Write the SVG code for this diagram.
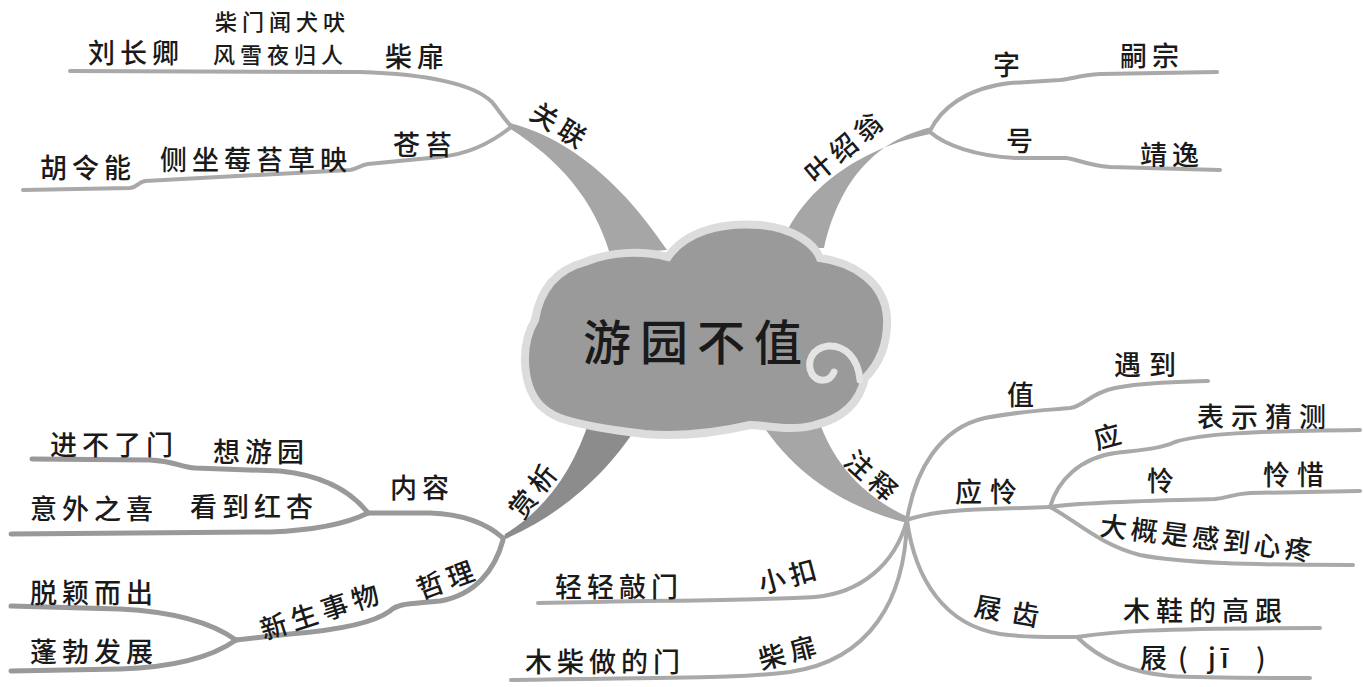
<svg xmlns="http://www.w3.org/2000/svg" width="1363" height="687" viewBox="0 0 1363 687">
<style>
.t{font-family:"Noto Sans CJK SC","Noto Sans",sans-serif;font-size:27px;font-weight:500;fill:#1a1a1a;letter-spacing:5px}
.s{font-size:22px;letter-spacing:5px}
.ln{fill:none;stroke:#a9a9a9;stroke-width:4;stroke-linecap:round;stroke-linejoin:round}
.lk{stroke:#999;stroke-width:5}
.br{fill:#a6a6a6}
.brd{fill:#8c8c8c}
</style>
<rect width="1363" height="687" fill="#fff"/>
<g id="connectors">
  <path class="br" d="M509,123 C555,134 612,168 667,250 L610,254 C594,200 560,160 509,128 Z"/>
  <path class="br" d="M932,127 C885,138 842,170 824,248 L780,248 C800,190 860,148 930,134 Z"/>
  <path class="brd" d="M642,418 C612,470 562,515 503,540 L505,534 C545,510 574,470 590,418 Z"/>
  <path class="br" d="M758,418 C790,470 840,506 907,523 L908,517 C860,495 832,460 818,418 Z"/>
  <path class="ln" d="M70,71 L360,72 C430,74 475,85 492,102 C500,112 505,120 511,126"/>
  <path class="ln" d="M23,190 L130,188 C138,187 138,182 145,181 L350,170 C358,169 360,165 368,164 L440,157 C470,154 495,140 511,127"/>
  <path class="ln" d="M930,131 C940,110 965,88 1010,83 L1060,80 C1072,79 1080,75 1100,74 L1217,72"/>
  <path class="ln" d="M930,132 C945,145 975,156 1015,158 L1065,158 C1078,159 1085,165 1110,167 L1220,170"/>
  <path class="ln lk" d="M503,538 C485,522 460,514 430,513 L368,513"/>
  <path class="ln lk" d="M368,513 C350,490 320,475 280,471 L195,468 C180,467 175,461 150,460 L32,459"/>
  <path class="ln lk" d="M368,513 C350,522 320,530 270,532 L11,534"/>
  <path class="ln lk" d="M503,540 C495,570 475,595 440,601 C410,604 398,603 390,611 C375,622 340,630 290,634 L236,640"/>
  <path class="ln lk" d="M236,640 C215,625 180,612 120,609 L11,606"/>
  <path class="ln lk" d="M236,640 C215,655 180,667 120,669 L11,671"/>
  <path class="ln" d="M907,520 C915,470 940,428 985,418 C1020,411 1050,410 1070,408 C1085,406 1090,393 1115,388 C1140,383 1175,382 1208,381"/>
  <path class="ln" d="M907,520 C925,513 950,510 990,509 L1050,507"/>
  <path class="ln" d="M1050,507 C1058,480 1080,458 1115,453 C1140,450 1160,449 1175,442 C1200,434 1250,431 1360,430"/>
  <path class="ln" d="M1050,507 C1080,502 1150,501 1215,499 C1228,498 1232,494 1250,493 L1360,491"/>
  <path class="ln" d="M1050,507 C1075,520 1100,545 1140,555 C1180,563 1250,565 1353,565"/>
  <path class="ln" d="M907,520 C915,580 945,625 1000,634 C1030,638 1055,637 1077,637"/>
  <path class="ln" d="M1077,637 C1110,632 1150,628 1320,628"/>
  <path class="ln" d="M1077,637 C1095,655 1125,672 1170,676 C1200,678 1250,678 1310,678"/>
  <path class="ln" d="M907,520 C895,565 860,593 815,597 C770,600 700,600 538,603"/>
  <path class="ln" d="M907,520 C905,600 870,660 790,672 C740,678 700,677 511,680"/>
</g>
<g id="center">
  <path d="M540,405 C522,385 520,345 535,320 C540,290 555,270 585,262 C610,252 640,250 668,257 C685,232 720,222 760,225 C795,228 815,245 820,258 C850,262 885,280 887,318 C888,345 878,365 865,378 C860,400 845,418 815,425 C790,432 765,425 750,425 C720,432 680,437 645,434 C610,430 580,425 560,418 C550,414 545,410 540,405 Z" fill="#9a9a9a" stroke="#dcdcdc" stroke-width="8"/>
  <path d="M860,380 C858,358 845,345 828,346 C812,348 806,362 812,374 C818,383 830,382 834,372" fill="none" stroke="#e4e4e4" stroke-width="7" stroke-linecap="round"/>
  <text class="t" x="583" y="360" style="font-size:48px;letter-spacing:9px">游园不值</text>
</g>
<g id="n-guanlian">
  <text class="t" x="0" y="9" text-anchor="middle" transform="translate(560,127) rotate(32)">关联</text>
</g>
<g id="n-chaifei1">
  <text class="t" x="385" y="67">柴扉</text>
  <text class="t s" x="215" y="30">柴门闻犬吠</text>
  <text class="t s" x="213" y="63">风雪夜归人</text>
  <text class="t" x="88" y="63">刘长卿</text>
</g>
<g id="n-cangtai">
  <text class="t" x="393" y="155">苍苔</text>
  <text class="t" x="160" y="170">侧坐莓苔草映</text>
  <text class="t" x="40" y="178">胡令能</text>
</g>
<g id="n-yeshaoweng">
  <text class="t" x="0" y="9" text-anchor="middle" transform="translate(846,147) rotate(-40)">叶绍翁</text>
</g>
<g id="n-zi">
  <text class="t" x="993" y="75">字</text>
  <text class="t" x="1120" y="66">嗣宗</text>
</g>
<g id="n-hao">
  <text class="t" x="1006" y="151">号</text>
  <text class="t" x="1140" y="165">靖逸</text>
</g>
<g id="n-shangxi">
  <text class="t" x="0" y="9" text-anchor="middle" transform="translate(535,490) rotate(-52)">赏析</text>
</g>
<g id="n-neirong">
  <text class="t" x="390" y="498">内容</text>
  <text class="t" x="213" y="462">想游园</text>
  <text class="t" x="50" y="455">进不了门</text>
  <text class="t" x="190" y="517">看到红杏</text>
  <text class="t" x="30" y="519">意外之喜</text>
</g>
<g id="n-zheli">
  <text class="t" x="0" y="9" text-anchor="middle" transform="translate(448,580) rotate(-20)">哲理</text>
  <text class="t" x="0" y="9" text-anchor="middle" transform="translate(322,612) rotate(-18)">新生事物</text>
  <text class="t" x="30" y="603">脱颖而出</text>
  <text class="t" x="30" y="662">蓬勃发展</text>
</g>
<g id="n-zhushi">
  <text class="t" x="0" y="9" text-anchor="middle" transform="translate(872,478) rotate(42)">注释</text>
</g>
<g id="n-zhi">
  <text class="t" x="1007" y="405">值</text>
  <text class="t" x="1114" y="375" style="letter-spacing:8px">遇到</text>
</g>
<g id="n-yinglian">
  <text class="t" x="955" y="502" style="letter-spacing:8px">应怜</text>
  <text class="t" x="0" y="9" text-anchor="middle" transform="translate(1110,437) rotate(-15)">应</text>
  <text class="t" x="1197" y="427" style="letter-spacing:7px">表示猜测</text>
  <text class="t" x="1147" y="491">怜</text>
  <text class="t" x="1263" y="485" style="letter-spacing:7px">怜惜</text>
  <text class="t" x="1099" y="535" style="letter-spacing:4px" transform="rotate(7,1099,535)">大概是感到心疼</text>
</g>
<g id="n-jichi">
  <text class="t" x="0" y="9" text-anchor="middle" style="letter-spacing:11px" transform="translate(1012,613) rotate(10)">屐齿</text>
  <text class="t" x="1123" y="621" style="letter-spacing:6px">木鞋的高跟</text>
  <text class="t" y="668"><tspan x="1140">屐</tspan><tspan x="1178">(</tspan><tspan x="1208">jī</tspan><tspan x="1256">)</tspan></text>
</g>
<g id="n-xiaokou">
  <text class="t" x="0" y="9" text-anchor="middle" transform="translate(790,577) rotate(-15)">小扣</text>
  <text class="t" x="555" y="597">轻轻敲门</text>
</g>
<g id="n-chaifei2">
  <text class="t" x="0" y="9" text-anchor="middle" transform="translate(790,653) rotate(-15)">柴扉</text>
  <text class="t" x="525" y="672">木柴做的门</text>
</g>
</svg>
